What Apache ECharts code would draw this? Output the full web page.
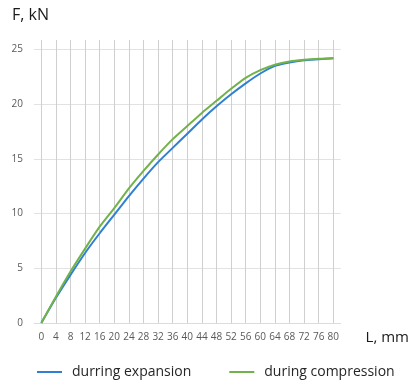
<!DOCTYPE html>
<html>
<head>
<meta charset="utf-8">
<script src="https://cdn.jsdelivr.net/npm/echarts@6/dist/echarts.min.js"></script>
<style>
  html, body { margin: 0; padding: 0; background: #fff; }
  #chart { width: 412px; height: 383px; }
</style>
</head>
<body>
<div id="chart"></div>
<script>
// Displacement L (mm) at each measurement step
const lengthsMm = ['0', '4', '8', '12', '16', '20', '24', '28', '32', '36', '40',
  '44', '48', '52', '56', '60', '64', '68', '72', '76', '80'];

// Force F (kN) recorded while the spring expands
const forceExpansion = [0, 2.3, 4.4, 6.4, 8.2, 9.9, 11.6, 13.2, 14.7, 16.0, 17.3,
  18.6, 19.8, 20.9, 21.9, 22.8, 23.5, 23.8, 24.0, 24.1, 24.2];

// Force F (kN) recorded while the spring is compressed
const forceCompression = [0, 2.4, 4.7, 6.8, 8.8, 10.5, 12.3, 13.9, 15.4, 16.8, 18.0,
  19.2, 20.3, 21.4, 22.4, 23.1, 23.6, 23.9, 24.05, 24.15, 24.2];

const seriesNames = ['durring expansion', 'during compression'];
const forceTicks = [0, 5, 10, 15, 20, 25];

const FONT = '"Open Sans", "Liberation Sans", sans-serif';
const chart = echarts.init(document.getElementById('chart'), null, { renderer: 'canvas' });

chart.setOption({
  animation: false,
  backgroundColor: '#ffffff',
  title: {
    text: 'F, kN',
    left: 7,
    top: 2,
    textStyle: { fontFamily: FONT, fontSize: 16, fontWeight: 'normal', color: '#1a1a1a' }
  },
  legend: {
    data: seriesNames,
    left: 32,
    top: 360,
    icon: 'rect',
    itemWidth: 25,
    itemHeight: 2,
    itemGap: 38,
    textStyle: { fontFamily: FONT, fontSize: 14, color: '#262626', padding: [0, 0, 0, 5] }
  },
  grid: { left: 34, right: 61, top: 40, bottom: 60, containLabel: false },
  xAxis: {
    type: 'category',
    data: lengthsMm,
    boundaryGap: true,
    name: 'L, mm',
    nameLocation: 'end',
    nameGap: 25,
    nameTextStyle: { fontFamily: FONT, fontSize: 15, color: '#1a1a1a', verticalAlign: 'top', padding: [7, 0, 0, 0] },
    axisLine: { show: true, lineStyle: { color: '#dcdcdc', width: 1 } },
    axisTick: { show: false },
    axisLabel: { fontFamily: FONT, fontSize: 10, color: '#595959', margin: 9, interval: 0 },
    splitLine: { show: true, alignWithLabel: true, interval: 0, lineStyle: { color: '#cfcfcf', width: 1 } }
  },
  yAxis: {
    type: 'value',
    min: 0,
    max: 25.86,
    interval: 5,
    axisLine: { show: false },
    axisTick: { show: false },
    axisLabel: {
      fontFamily: FONT, fontSize: 10, color: '#595959', margin: 11,
      formatter: v => (forceTicks.indexOf(v) >= 0 ? String(v) : '')
    },
    splitLine: {
      show: true,
      lineStyle: {
        color: ['#e2e2e2', '#e2e2e2', '#e2e2e2', '#e2e2e2', '#e2e2e2', '#e2e2e2', 'rgba(0,0,0,0)'],
        width: 1
      }
    }
  },
  series: [
    {
      name: seriesNames[0],
      type: 'line',
      data: forceExpansion,
      smooth: 0.2,
      showSymbol: false,
      symbol: 'none',
      lineStyle: { color: '#2f80d2', width: 2 },
      itemStyle: { color: '#2f80d2' }
    },
    {
      name: seriesNames[1],
      type: 'line',
      data: forceCompression,
      smooth: 0.2,
      showSymbol: false,
      symbol: 'none',
      lineStyle: { color: '#72b24a', width: 2 },
      itemStyle: { color: '#72b24a' }
    }
  ]
});
</script>
</body>
</html>
